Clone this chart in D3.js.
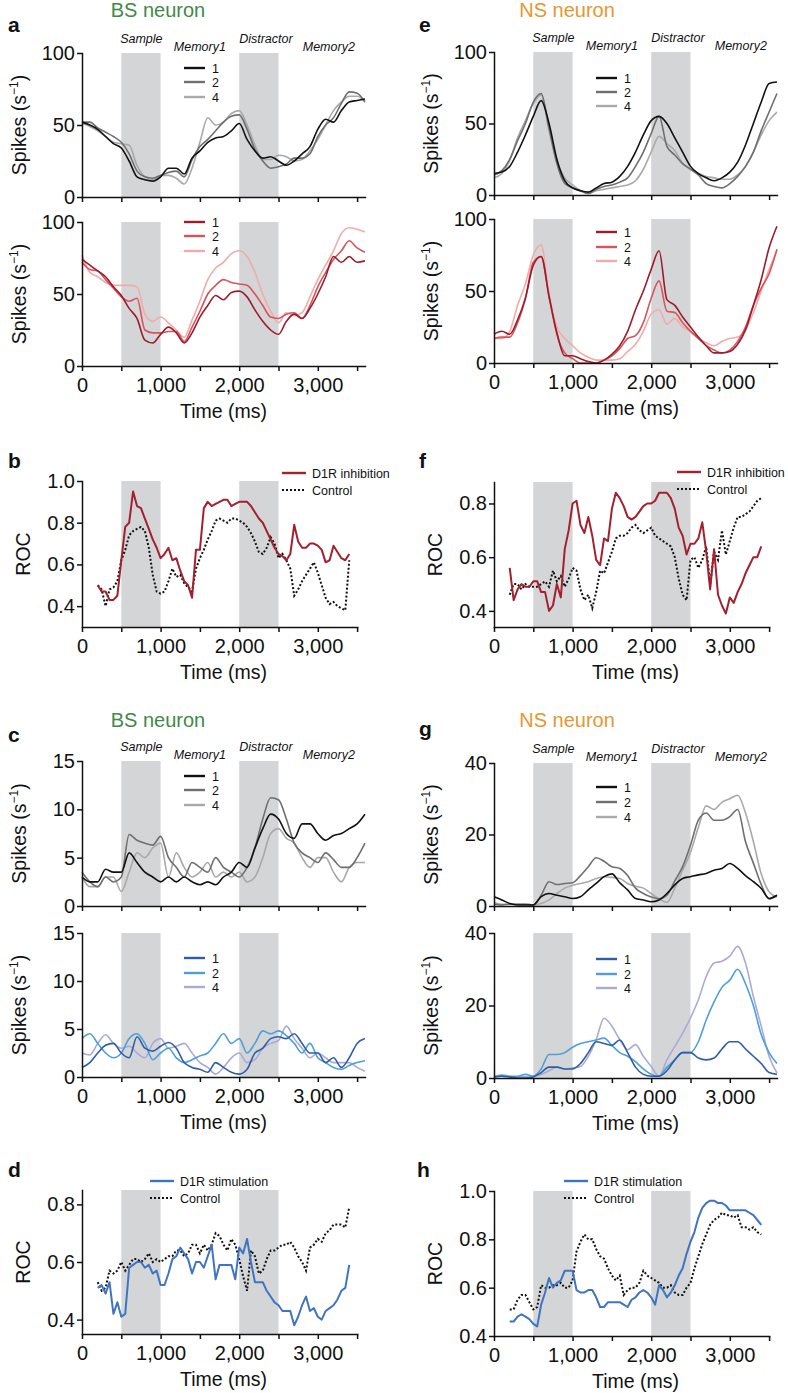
<!DOCTYPE html>
<html>
<head>
<meta charset="utf-8">
<script src="https://cdn.jsdelivr.net/npm/d3@7"></script>
<style>
  body { margin: 0; background: #fff; }
  text { font-family: "Liberation Sans", Arial, Helvetica, sans-serif; fill: #111; }
  .axis path, .axis line { stroke: #111; stroke-width: 1.5; }
  .axis text { font-size: 20px; }
</style>
</head>
<body>
<div id="graf"></div>
<script>
// time grids (ms)
const tSpk = [0,100,200,300,400,500,600,700,800,900,1000,1100,1200,1300,1400,1500,1600,1700,1800,1900,2000,2100,2200,2300,2400,2500,2600,2700,2800,2900,3000,3100,3200,3300,3400,3500,3600]
const tRoc = [200,250,300,350,400,450,500,550,600,650,700,750,800,850,900,950,1000,1050,1100,1150,1200,1250,1300,1350,1400,1450,1500,1550,1600,1650,1700,1750,1800,1850,1900,1950,2000,2050,2100,2150,2200,2250,2300,2350,2400,2450,2500,2550,2600,2650,2700,2750,2800,2850,2900,2950,3000,3050,3100,3150,3200,3250,3300,3350,3400]

const legendNames = ["1", "2", "4"]
const xTickVals = [0,500,1000,1500,2000,2500,3000,3500]
const bands = [[500,1000],[2000,2500]]
const phases = ["Sample", "Memory1", "Distractor", "Memory2"]

// a: BS neuron, spikes (D1R inhibition)
const aTop1 = [52,50,47,42,37,34,25,14,12,11,14,20,20,16,27,32,38,41,42,46,51,40,32,27,28,25,22,25,30,35,47,54,52,60,66,67,68]
const aTop2 = [52,52,48,45,42,38,30,18,14,13,15,17,18,14,26,35,40,46,52,56,57,47,33,25,20,21,23,27,27,30,42,50,55,65,73,72,66]
const aTop4 = [51,49,46,42,38,37,36,22,14,12,15,15,13,9,20,38,55,50,52,58,60,50,36,26,26,29,28,25,26,32,40,50,60,66,70,70,66]
const aBot1 = [74,70,66,62,55,49,40,33,18,16,22,27,23,16,23,34,42,49,46,51,52,48,39,31,25,22,31,36,33,40,50,62,76,72,76,72,73]
const aBot2 = [72,67,66,60,54,48,45,47,25,23,23,24,24,17,27,38,50,56,60,58,57,56,50,42,34,33,36,37,33,42,55,65,74,80,87,82,79]
const aBot4 = [77,65,62,58,56,56,56,55,36,31,34,30,25,20,32,45,60,68,72,78,80,76,65,50,38,30,37,35,37,48,60,70,80,92,96,95,93]

// b: ROC
const bD1R = [.50,.47,.47,.43,.43,.45,.62,.78,.80,.95, .88,.87,.82,.77,.72,.68,.63,.65,.68,.62, .63,.57,.52,.50,.44,.67,.67,.87,.90,.88, .89,.90,.91,.91,.88,.89,.90,.90,.90,.88, .85,.82,.80,.76,.72,.68,.65,.64,.62,.65, .79,.71,.68,.68,.70,.70,.69,.67,.61,.62, .69,.66,.63,.62,.65]
const bCtrl = [.50,.48,.40,.48,.49,.52,.62,.67,.74,.76, .77,.78,.76,.68,.55,.47,.46,.47,.52,.58, .54,.55,.51,.49,.47,.58,.63,.67,.72,.76, .81,.82,.81,.80,.82,.82,.81,.80,.78,.75, .71,.66,.65,.68,.73,.70,.63,.65,.62,.58, .45,.48,.52,.55,.58,.61,.56,.50,.44,.41, .42,.40,.39,.38,.62]

// c: BS neuron, spikes (D1R stimulation)
const cTop1 = [3,2.5,2.5,3.8,3.5,3.5,5.5,4.5,3.5,3,2.5,3,2.5,3,2.5,2.2,2.5,2.2,3,3.5,4.5,4,6,8,9.5,9,7.5,7,8.5,8.5,7.5,6.8,7.3,7.5,8,8.5,9.5]
const cTop2 = [3.5,2.5,2,3,2.5,3,7.4,6.8,6.5,6.3,7.2,5,4,3,4.5,4,3.5,5,4,3.5,3,4,6,9,11.2,11,9,6.5,5.5,5,4.5,5.5,4.8,4,4,5,6.5]
const cTop4 = [3,2,2,3,3,1.5,3.5,5.5,5,6,6.5,3,5.5,4,3,3.5,4.5,3,3.5,3,3.5,2.5,3,5,7.5,8,7,6.5,5,4,5,5,3.5,2.5,4,4.5,4.5]
const cBot1 = [1,1.5,2.5,3.3,3.5,2.5,2,4.2,3,2.7,3.2,3.6,3,1.5,1,0.8,0.5,1.5,1,0.5,0.3,0.8,2.5,3,4,4.2,4,4.5,3.5,2.5,2.5,1.5,2,1,2,3.5,4]
const cBot2 = [4,4.5,3.5,2.5,2,2.5,4,4.5,3.5,1.8,2.5,3,2,1.5,1.8,2.2,2.5,3.5,4.5,3.5,4,2.5,3.5,4.8,4.5,4.8,4.3,3.5,2.5,3.5,2,1.5,1,0.8,1.2,1.5,1.7]
const cBot4 = [2.5,2.3,3.5,4.4,3.5,3,3.2,2.5,2,3.5,4,3,3.2,3.5,2.5,1.5,1,0.3,1,2,2.5,1.5,1.8,3,3.5,3.8,5.3,4,3,2,2.5,2,1.5,1.5,1.5,1,0.6]

// d: ROC
const dD1R = [.51,.52,.49,.53,.42,.46,.41,.42,.58,.59, .60,.60,.58,.59,.56,.57,.52,.52,.56,.61, .62,.65,.63,.61,.56,.60,.60,.58,.62,.66, .54,.59,.59,.59,.59,.54,.65,.63,.68,.60, .53,.53,.53,.50,.48,.46,.45,.43,.43,.43, .38,.41,.45,.48,.43,.44,.41,.40,.43,.44, .45,.47,.50,.51,.59]
const dCtrl = [.53,.50,.51,.57,.56,.57,.60,.57,.59,.61, .61,.60,.61,.63,.60,.61,.60,.61,.62,.62, .64,.64,.62,.63,.66,.66,.63,.66,.64,.66, .70,.69,.66,.64,.68,.66,.61,.55,.50,.64, .62,.56,.57,.61,.64,.64,.65,.66,.66,.67, .65,.62,.60,.57,.65,.66,.68,.67,.70,.71, .73,.73,.73,.72,.79]

// e: NS neuron, spikes (D1R inhibition)
const eTop1 = [15,16,20,30,42,55,66,50,25,10,5,3,2,5,8,9,13,20,30,42,52,55,50,40,30,20,15,12,10,12,16,23,35,50,65,78,79]
const eTop2 = [14,17,25,38,50,65,71,47,22,8,5,3,1,4,6,7,9,12,20,30,43,55,34,28,22,18,14,8,6,5,8,13,20,30,45,58,71]
const eTop4 = [12,15,24,40,52,64,70,45,23,12,7,3,1,3,4,5,6,7,10,18,30,41,36,31,22,18,15,13,12,11,11,14,20,30,42,52,58]
const eBot1 = [20,22,20,30,45,68,74,46,21,5,5,3,1,0,2,6,12,22,37,50,65,78,44,40,32,25,18,12,7,7,8,13,23,40,58,80,95]
const eBot2 = [17,18,18,28,45,70,74,47,20,7,3,0,0,0,2,5,10,17,19,28,45,57,36,35,28,22,17,12,9,7,9,15,25,40,52,62,79]
const eBot4 = [17,17,22,40,55,75,82,48,25,17,12,7,4,2,2,2,3,8,13,22,34,37,27,31,25,22,17,14,12,15,17,18,23,35,50,65,78]

// f: ROC
const fD1R = [.56,.44,.48,.50,.49,.49,.51,.51,.47,.47, .40,.42,.50,.45,.63,.70,.80,.81,.72,.69, .75,.68,.59,.57,.67,.66,.78,.84,.82,.79, .75,.74,.75,.77,.79,.80,.80,.81,.84,.84, .84,.82,.78,.71,.68,.61,.65,.65,.67,.73, .62,.48,.63,.46,.42,.39,.45,.43,.47,.50, .54,.57,.60,.60,.64]
const fCtrl = [.46,.50,.50,.48,.50,.49,.49,.49,.50,.51, .49,.55,.51,.53,.49,.52,.56,.55,.48,.44, .46,.41,.47,.55,.54,.58,.62,.67,.68,.68, .69,.71,.72,.70,.69,.70,.71,.68,.67,.66, .65,.64,.60,.52,.46,.44,.59,.60,.56,.59, .64,.50,.62,.59,.70,.61,.66,.71,.75,.75, .76,.77,.79,.81,.82]

// g: NS neuron, spikes (D1R stimulation)
const gTop1 = [2.6,1.7,0.7,0.3,0.3,0.3,2.6,3.5,3,2.6,2.1,2.6,4.5,6.3,8.2,9,6.5,4.5,2.1,1.7,1.2,1.7,3.5,5.9,7.7,8.2,8.7,9.1,10,10.5,11.9,10.5,8.5,6.8,4.9,2.1,3]
const gTop2 = [0.5,0.3,0.5,0.5,0.5,0.3,3,6.8,6,6.3,6.5,8.5,11,13.5,12.5,11,10.5,8.5,5,3.5,2.5,2,3,7,11,17,24,26,24,24,25,27,18,12,6,2,3]
const gTop4 = [1,0.5,0.5,0.5,0.5,0.3,0.7,1.7,3.5,5,5.8,6.3,6.8,7.7,8.2,8,7.7,6.3,5.5,5,3.5,2,1,5,10,15,22,28,27,29,30,31,26,18,9,4,2.5]
const gBot1 = [0.3,0.5,0.3,0,0,0.3,1.5,3,3,2.5,2.5,4,7,10,9.5,9,10.5,7,3,1,0.5,0.5,2,5,7,7,5.5,5,5.5,8,10,10,8,6,4,1.5,1]
const gBot2 = [0.3,0.8,0.5,0.5,1,0.5,2.5,6.5,6.5,7,8.5,9.5,10,10.5,11,9,7,6,4.5,2.5,1,0.5,3,5,7,7,10,16,21,25,27,30,26,20,12,7,4]
const gBot4 = [0.5,0.5,0.3,0.3,0.3,0.5,1,2,3,2.5,2.8,3.2,6,10.6,16.5,14.3,10.6,7.8,9.2,6,3.2,0.5,5,8.7,12.4,16.6,21.6,28,31.7,32.2,33.6,36.3,31.7,22.5,14.3,6,1.4]

// h: ROC
const hD1R = [.46,.46,.48,.49,.48,.47,.45,.44,.53,.58, .64,.60,.62,.63,.67,.67,.67,.59,.58,.58, .59,.59,.56,.52,.52,.54,.54,.54,.54,.53, .52,.55,.56,.58,.59,.58,.56,.53,.61,.59, .56,.58,.61,.65,.68,.74,.79,.83,.89,.93, .95,.96,.96,.95,.95,.94,.92,.92,.92,.92, .92,.91,.90,.88,.86]
const hCtrl = [.51,.51,.55,.57,.57,.54,.51,.52,.61,.60, .60,.61,.61,.62,.60,.60,.63,.75,.79,.82, .80,.80,.76,.73,.72,.68,.65,.63,.65,.57, .59,.60,.60,.62,.67,.65,.64,.63,.62,.60, .60,.61,.58,.57,.57,.60,.62,.68,.73,.78, .82,.86,.88,.89,.91,.90,.90,.89,.90,.85, .85,.84,.85,.83,.82]

const greys = ["#111111", "#6f6f6f", "#a9a9a9"]
const reds = ["#9e1b2b", "#d8545b", "#f2abab"]
const blues = ["#2f5ea6", "#4c9fdb", "#aaaad8"]
const rocRed = "#a3202f"
const rocBlue = "#3f74c2"
const bandColor = "#d4d5d7"

const pxPerMs = 0.0786
const L = 82, R = 494

const svg = d3.select("#graf").append("svg").attr("width", 788).attr("height", 1393)
svg.append("rect").attr("width", 788).attr("height", 1393).attr("fill", "#fff")

const spikePanels = [
  {left: L, top: 53, bottom: 197, yDomain: [0,100], yTicks: [0,50,100], series: [aTop1,aTop2,aTop4], colors: greys, legendYs: [68,82,97], xLabels: false, phases: true},
  {left: L, top: 222, bottom: 366, yDomain: [0,100], yTicks: [0,50,100], series: [aBot1,aBot2,aBot4], colors: reds, legendYs: [222,236,251], xLabels: true},
  {left: L, top: 761, bottom: 906, yDomain: [0,15], yTicks: [0,5,10,15], series: [cTop1,cTop2,cTop4], colors: greys, legendYs: [776,790,805], xLabels: false, phases: true},
  {left: L, top: 933, bottom: 1077, yDomain: [0,15], yTicks: [0,5,10,15], series: [cBot1,cBot2,cBot4], colors: blues, legendYs: [958,973,987], xLabels: true},
  {left: R, top: 52, bottom: 195, yDomain: [0,100], yTicks: [0,50,100], series: [eTop1,eTop2,eTop4], colors: greys, legendYs: [78,92,106], xLabels: false, phases: true},
  {left: R, top: 219, bottom: 363, yDomain: [0,100], yTicks: [0,50,100], series: [eBot1,eBot2,eBot4], colors: reds, legendYs: [232,247,261], xLabels: true},
  {left: R, top: 763, bottom: 906, yDomain: [0,40], yTicks: [0,20,40], series: [gTop1,gTop2,gTop4], colors: greys, legendYs: [787,802,817], xLabels: false, phases: true},
  {left: R, top: 933, bottom: 1078, yDomain: [0,40], yTicks: [0,20,40], series: [gBot1,gBot2,gBot4], colors: blues, legendYs: [959,974,988], xLabels: true}
]

const rocPanels = [
  {left: L, top: 481, bottom: 627, yDomain: [0.3,1.0], yTicks: [0.4,0.6,0.8,1.0], main: bD1R, ctrl: bCtrl, color: rocRed, label: "D1R inhibition", lx: 282, ly: 473},
  {left: L, top: 1190, bottom: 1334, yDomain: [0.35,0.85], yTicks: [0.4,0.6,0.8], main: dD1R, ctrl: dCtrl, color: rocBlue, label: "D1R stimulation", lx: 150, ly: 1181},
  {left: R, top: 482, bottom: 627, yDomain: [0.34,0.88], yTicks: [0.4,0.6,0.8], main: fD1R, ctrl: fCtrl, color: rocRed, label: "D1R inhibition", lx: 677, ly: 472},
  {left: R, top: 1191, bottom: 1336, yDomain: [0.4,1.0], yTicks: [0.4,0.6,0.8,1.0], main: hD1R, ctrl: hCtrl, color: rocBlue, label: "D1R stimulation", lx: 564, ly: 1181}
]

function frame(p, xMax) {
  const x = d3.scaleLinear().domain([0, xMax]).range([p.left, p.left + xMax * pxPerMs])
  const y = d3.scaleLinear().domain(p.yDomain).range([p.bottom, p.top])
  const g = svg.append("g")
  bands.forEach(b => {
    g.append("rect").attr("x", x(b[0])).attr("width", x(b[1]) - x(b[0]))
      .attr("y", p.top).attr("height", p.bottom - p.top).attr("fill", bandColor)
  })
  return {x, y, g}
}

function axes(g, p, x, y, yFmt, xLabels) {
  g.append("g").attr("class", "axis").attr("transform", `translate(0,${p.bottom})`)
    .call(d3.axisBottom(x).tickValues(xTickVals).tickSize(5).tickSizeOuter(0).tickPadding(7)
      .tickFormat(d => xLabels && d % 1000 === 0 ? d3.format(",")(d) : ""))
  g.append("g").attr("class", "axis").attr("transform", `translate(${p.left},0)`)
    .call(d3.axisLeft(y).tickValues(p.yTicks).tickSize(5).tickSizeOuter(0).tickPadding(2).tickFormat(yFmt))
  g.selectAll(".axis .domain").attr("stroke-linecap", "square")
  if (xLabels) {
    g.append("text").attr("x", (x.range()[0] + x(3600)) / 2).attr("y", p.bottom + 52)
      .attr("text-anchor", "middle").attr("font-size", 19.5).text("Time (ms)")
  }
}

spikePanels.forEach(p => {
  const {x, y, g} = frame(p, 3600)
  const line = d3.line().x((d, i) => x(tSpk[i])).y(d => y(d)).curve(d3.curveMonotoneX)
  // lightest first so the dark trace sits on top
  ;[2, 1, 0].forEach(k => {
    g.append("path").datum(p.series[k]).attr("d", line).attr("fill", "none")
      .attr("stroke", p.colors[k]).attr("stroke-width", 1.6).attr("stroke-linejoin", "round")
  })
  axes(g, p, x, y, d3.format("d"), p.xLabels)

  // y title
  const yt = g.append("text").attr("transform", `translate(${p.left - 56},${(p.top + p.bottom) / 2}) rotate(-90)`)
    .attr("text-anchor", "middle").attr("font-size", 19.5)
  yt.append("tspan").text("Spikes (s")
  yt.append("tspan").attr("dy", -8).attr("font-size", 12).text("\u22121")
  yt.append("tspan").attr("dy", 8).text(")")

  // legend
  p.legendYs.forEach((ly, k) => {
    g.append("line").attr("x1", p.left + 102).attr("x2", p.left + 123).attr("y1", ly).attr("y2", ly)
      .attr("stroke", p.colors[k]).attr("stroke-width", 2.4)
    g.append("text").attr("x", p.left + 130).attr("y", ly).attr("dy", "0.36em").attr("font-size", 12.5).text(legendNames[k])
  })

  if (p.phases) {
    const pos = [755, 1500, 2340, 3140]
    const dys = [-10, -2, -10, -2]
    phases.forEach((ph, k) => {
      g.append("text").attr("x", x(pos[k])).attr("y", p.top + dys[k]).attr("text-anchor", "middle")
        .attr("font-size", 12.5).attr("font-style", "italic").text(ph)
    })
  }
})

rocPanels.forEach(p => {
  const {x, y, g} = frame(p, 3500)
  const line = d3.line().x((d, i) => x(tRoc[i])).y(d => y(d))
  g.append("path").datum(p.ctrl).attr("d", line).attr("fill", "none")
    .attr("stroke", "#111").attr("stroke-width", 2).attr("stroke-dasharray", "2,2")
  g.append("path").datum(p.main).attr("d", line).attr("fill", "none")
    .attr("stroke", p.color).attr("stroke-width", 2).attr("stroke-linejoin", "round")
  axes(g, p, x, y, d3.format(".1f"), true)
  g.append("text").attr("transform", `translate(${p.left - 52},${(p.top + p.bottom) / 2}) rotate(-90)`)
    .attr("text-anchor", "middle").attr("font-size", 19.5).text("ROC")

  // legend
  g.append("line").attr("x1", p.lx).attr("x2", p.lx + 24).attr("y1", p.ly).attr("y2", p.ly)
    .attr("stroke", p.color).attr("stroke-width", 2.4)
  g.append("text").attr("x", p.lx + 30).attr("y", p.ly).attr("dy", "0.36em").attr("font-size", 12.5).text(p.label)
  g.append("line").attr("x1", p.lx).attr("x2", p.lx + 24).attr("y1", p.ly + 17).attr("y2", p.ly + 17)
    .attr("stroke", "#111").attr("stroke-width", 2).attr("stroke-dasharray", "2,2")
  g.append("text").attr("x", p.lx + 30).attr("y", p.ly + 17).attr("dy", "0.36em").attr("font-size", 12.5).text("Control")
})

// headers and panel letters
const headers = [
  {x: 158, y: 17, text: "BS neuron", color: "#3f8a47"},
  {x: 567, y: 17, text: "NS neuron", color: "#e8972f"},
  {x: 158, y: 727, text: "BS neuron", color: "#3f8a47"},
  {x: 567, y: 727, text: "NS neuron", color: "#e8972f"}
]
headers.forEach(h => {
  svg.append("text").attr("x", h.x).attr("y", h.y).attr("text-anchor", "middle")
    .attr("font-size", 20).style("fill", h.color).text(h.text)
})
const letters = [["a",8,32],["b",8,468],["c",8,742],["d",8,1177],["e",419,32],["f",419,468],["g",419,736],["h",417,1177]]
letters.forEach(l => {
  svg.append("text").attr("x", l[1]).attr("y", l[2]).attr("font-size", 21).attr("font-weight", "bold").text(l[0])
})
</script>
</body>
</html>
